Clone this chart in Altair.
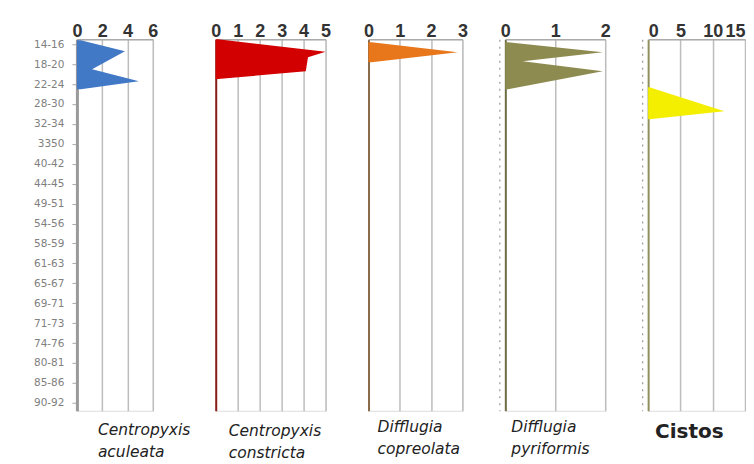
import json
import altair as alt
import pandas as pd

depth_labels = ["14-16", "18-20", "22-24", "28-30", "32-34", "3350", "40-42", "44-45",
                "49-51", "54-56", "58-59", "61-63", "65-67", "69-71", "71-73", "74-76",
                "80-81", "85-86", "90-92"]

# profile points: position on the depth axis (label index units) and abundance
aculeata_pos = [-0.2, 0.35, 1.25, 1.86, 2.26]
aculeata_val = [0.3, 3.8, 1.2, 4.9, 0.3]
constricta_pos = [-0.25, 0.38, 0.65, 1.35, 1.75]
constricta_val = [0.1, 5.0, 4.2, 4.1, 0.1]
copreolata_pos = [-0.1, 0.4, 0.9]
copreolata_val = [0.1, 2.85, 0.1]
pyriformis_pos = [-0.1, 0.4, 0.85, 1.35, 2.26]
pyriformis_val = [0.05, 1.95, 0.35, 1.95, 0.05]
cistos_pos = [2.16, 3.36, 3.76]
cistos_val = [0.2, 11.8, 0.2]

ticks_aculeata = [0, 2, 4, 6]
ticks_constricta = [0, 1, 2, 3, 4, 5]
ticks_copreolata = [0, 1, 2, 3]
ticks_pyriformis = [0, 1, 2]
ticks_cistos = [0, 5, 10, 15]

FONT = "DejaVu Sans"
TICK_FONT = "Liberation Sans"
PLOT_H = 372


def panel(pos, val, ticks, width, color, axis_color, title_lines, title_dx,
          title_offset, first=False, italic=True, title_size=15.5, dotted=False,
          flush=False):
    df = pd.DataFrame({"pos": pos, "val": val})
    if first:
        yaxis = alt.Axis(values=list(range(len(depth_labels))),
                         labelExpr=json.dumps(depth_labels) + "[datum.value]",
                         labelFont=FONT, labelFontSize=10.5, labelColor="#808080",
                         labelPadding=8, tickSize=5, tickColor="#aaaaaa",
                         domainColor="#9a9a9a", domainWidth=3, grid=False,
                         title=None, minExtent=60, maxExtent=60, labelOverlap=False)
    elif dotted:
        yaxis = alt.Axis(labels=False, ticks=False, domainColor="#999999",
                         domainWidth=1.2, domainDash=[2, 5], offset=6, grid=False,
                         title=None)
    else:
        yaxis = alt.Axis(labels=False, ticks=False, domain=False, grid=False, title=None)
    grid_col = "#bdbdbd" if first else alt.condition(
        "datum.value == 0", alt.value(axis_color), alt.value("#bdbdbd"))
    grid_w = 1.5 if first else alt.condition(
        "datum.value == 0", alt.value(2), alt.value(1.5))
    xaxis = alt.Axis(orient="top", values=ticks, format=".0f", labelFont=TICK_FONT,
                     labelFontSize=18, labelFontWeight="bold", labelColor="#333333",
                     labelPadding=-1, labelFlush=flush, labelFlushOffset=0,
                     labelOverlap=False, ticks=False,
                     domainColor="#aaaaaa", domainWidth=1.5, grid=True,
                     gridColor=grid_col, gridWidth=grid_w, title=None)
    return alt.Chart(df).mark_area(orient="horizontal", color=color, opacity=1).encode(
        y=alt.Y("pos:Q", scale=alt.Scale(domain=[-0.25, 18.4], reverse=True, nice=False,
                                         zero=False), axis=yaxis),
        x=alt.X("val:Q", stack=None,
                scale=alt.Scale(domain=[ticks[0], ticks[-1]], nice=False), axis=xaxis),
    ).properties(
        width=width, height=PLOT_H,
        title=alt.TitleParams(text=title_lines, orient="bottom", anchor="start",
                              frame="group", dx=title_dx, offset=title_offset, font=FONT,
                              fontSize=title_size,
                              fontStyle="italic" if italic else "normal",
                              fontWeight="normal" if italic else "bold",
                              color="#222222", lineHeight=22, baseline="top"),
    )


p1 = panel(aculeata_pos, aculeata_val, ticks_aculeata, 76, "#4279c6", "#999999",
           ["Centropyxis", "aculeata"], 21, 12, first=True)
p2 = panel(constricta_pos, constricta_val, ticks_constricta, 110, "#d20000", "#8b1a1a",
           ["Centropyxis", "constricta"], 13, 13)
p3 = panel(copreolata_pos, copreolata_val, ticks_copreolata, 94, "#e8761a", "#8a6a48",
           ["Difflugia", "copreolata"], 9, 9)
p4 = panel(pyriformis_pos, pyriformis_val, ticks_pyriformis, 100, "#8e8b50", "#6f6e45",
           ["Difflugia", "pyriformis"], 6, 9, dotted=True)
p5 = panel(cistos_pos, cistos_val, ticks_cistos, 97, "#f4ee00", "#8f8f60",
           ["Cistos"], 7, 11, italic=False, title_size=20, dotted=True, flush=True)

inner = alt.hconcat(p2, p3, p4, p5, spacing=43, bounds="flush")
chart = alt.hconcat(p1, inner, spacing=63, bounds="flush").properties(
    padding={"left": 8, "top": 13, "right": 0, "bottom": 0}
).configure_view(stroke=None).configure(background="white")

chart.save("out.html", embed_options={"renderer": "svg", "actions": False})
